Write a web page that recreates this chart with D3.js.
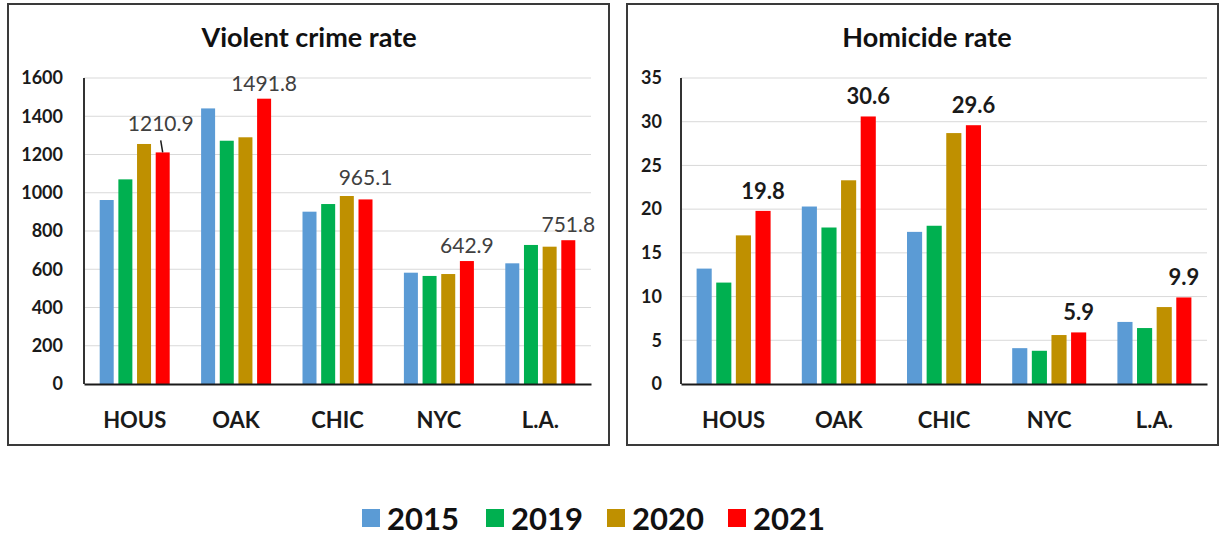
<!DOCTYPE html>
<html>
<head>
<meta charset="utf-8">
<script src="https://cdn.jsdelivr.net/npm/d3@7"></script>
<style>
  html, body { margin: 0; padding: 0; background: #ffffff; }
  svg { display: block; font-family: Lato, "Open Sans", sans-serif; }
</style>
</head>
<body>
<svg id="chart" width="1221" height="537"></svg>
<script>
// City groups and reporting years
const cities = ["HOUS", "OAK", "CHIC", "NYC", "L.A."];
const years = ["2015", "2019", "2020", "2021"];
const yearColors = ["#5B9BD5", "#00B050", "#BF9000", "#FF0000"];

// Violent crime rate per 100k
const violent2015 = [962, 1441, 901, 582, 631];
const violent2019 = [1070, 1272, 941, 565, 727];
const violent2020 = [1255, 1290, 983, 575, 718];
const violent2021 = [1210.9, 1491.8, 965.1, 642.9, 751.8];
const violentTicks = [0, 200, 400, 600, 800, 1000, 1200, 1400, 1600];

// Homicide rate per 100k
const homicide2015 = [13.2, 20.3, 17.4, 4.1, 7.1];
const homicide2019 = [11.6, 17.9, 18.1, 3.8, 6.4];
const homicide2020 = [17.0, 23.3, 28.7, 5.6, 8.8];
const homicide2021 = [19.8, 30.6, 29.6, 5.9, 9.9];
const homicideTicks = [0, 5, 10, 15, 20, 25, 30, 35];

const svg = d3.select("#chart");

function drawPanel(opts) {
  const g = svg.append("g");
  const series = opts.series;

  // panel frame
  g.append("rect")
    .attr("x", opts.box[0]).attr("y", opts.box[1])
    .attr("width", opts.box[2] - opts.box[0]).attr("height", opts.box[3] - opts.box[1])
    .attr("fill", "#fff").attr("stroke", "#3a3a3a").attr("stroke-width", 2);

  // title
  g.append("text")
    .attr("x", opts.titleX).attr("y", 47)
    .attr("text-anchor", "middle")
    .attr("font-size", 27).attr("font-weight", 700).attr("fill", "#111")
    .text(opts.title);

  const y = d3.scaleLinear().domain([0, opts.ticks[opts.ticks.length - 1]]).range([384, 78]);
  const x0 = d3.scaleBand().domain(cities).range([opts.left, opts.right]);
  const x1 = d3.scaleBand().domain(years).range([0, opts.groupW]).paddingInner(opts.barPad);

  // gridlines
  g.append("g").selectAll("line").data(opts.ticks.slice(1)).join("line")
    .attr("x1", opts.left).attr("x2", opts.right)
    .attr("y1", d => y(d)).attr("y2", d => y(d))
    .attr("stroke", "#d9d9d9").attr("stroke-width", 1);

  // y axis labels
  const yAxis = d3.axisLeft(y).tickValues(opts.ticks).tickFormat(d3.format("d"))
    .tickSize(0).tickPadding(0);
  const ya = g.append("g").attr("transform", `translate(${opts.labelRight},0)`).call(yAxis);
  ya.select(".domain").remove();
  ya.selectAll("text")
    .attr("font-family", "Lato, sans-serif")
    .attr("font-size", 18).attr("font-weight", 700).attr("fill", "#1a1a1a");

  // bars
  const groups = g.append("g").selectAll("g").data(cities).join("g")
    .attr("transform", d => `translate(${x0(d) + x0.bandwidth() / 2 - opts.groupW / 2},0)`);
  groups.selectAll("rect")
    .data((c, i) => years.map((yr, k) => ({ yr, k, v: series[k][i] })))
    .join("rect")
    .attr("x", d => x1(d.yr))
    .attr("width", x1.bandwidth())
    .attr("y", d => y(d.v))
    .attr("height", d => y(0) - y(d.v))
    .attr("fill", d => yearColors[d.k]);

  // axes lines
  g.append("line")
    .attr("x1", opts.left).attr("x2", opts.left)
    .attr("y1", y(opts.ticks[opts.ticks.length - 1])).attr("y2", y(0))
    .attr("stroke", "#333").attr("stroke-width", 2);
  const xAxis = d3.axisBottom(x0).tickSize(0).tickPadding(0);
  const xa = g.append("g").attr("transform", `translate(0,${y(0)})`).call(xAxis);
  xa.select(".domain").attr("stroke", "#1a1a1a").attr("stroke-width", 2);
  xa.selectAll("text")
    .attr("y", 44)
    .attr("dy", 0)
    .attr("font-family", "Lato, sans-serif")
    .attr("font-size", 22).attr("font-weight", 700).attr("fill", "#1a1a1a");

  // 2021 value labels
  const last = series[3];
  const lbl = g.append("g");
  cities.forEach((c, i) => {
    const cx = x0(c) + x0.bandwidth() / 2 - opts.groupW / 2 + x1("2021") + x1.bandwidth() / 2;
    const top = y(last[i]);
    const lift = opts.lift[i];
    lbl.append("text")
      .attr("x", cx + opts.labelShift[i]).attr("y", top - lift)
      .attr("text-anchor", "middle")
      .attr("font-size", opts.labelSize).attr("font-weight", opts.labelWeight)
      .attr("fill", opts.labelColor)
      .text(last[i]);
    if (lift > 18) {
      lbl.append("line")
        .attr("x1", cx + opts.labelShift[i]).attr("y1", top - lift + 9)
        .attr("x2", cx).attr("y2", top)
        .attr("stroke", "#1a1a1a").attr("stroke-width", 1.5);
    }
  });
}

drawPanel({
  title: "Violent crime rate", titleX: 309,
  box: [8, 4, 609, 445],
  left: 84, right: 591, labelRight: 63,
  groupW: 70, barPad: 0.25,
  ticks: violentTicks,
  series: [violent2015, violent2019, violent2020, violent2021],
  lift: [21, 8, 14, 8, 8], labelShift: [-2, 0, 0, 0, 0],
  labelSize: 21, labelWeight: 400, labelColor: "#404040"
});

drawPanel({
  title: "Homicide rate", titleX: 927,
  box: [627, 4, 1218, 445],
  left: 681, right: 1207, labelRight: 662,
  groupW: 74, barPad: 0.23,
  ticks: homicideTicks,
  series: [homicide2015, homicide2019, homicide2020, homicide2021],
  lift: [12, 12, 12, 12, 12], labelShift: [0, 0, 0, 0, 0],
  labelSize: 22, labelWeight: 700, labelColor: "#1a1a1a"
});

// legend
const legendX = [362, 486, 607, 728];
const legend = svg.append("g").selectAll("g").data(years).join("g")
  .attr("transform", (d, i) => `translate(${legendX[i]},0)`);
legend.append("rect")
  .attr("x", 0).attr("y", 509).attr("width", 18).attr("height", 18)
  .attr("fill", (d, i) => yearColors[i]);
legend.append("text")
  .attr("x", 25).attr("y", 530)
  .attr("font-size", 31).attr("font-weight", 700).attr("fill", "#111")
  .text(d => d);
</script>
</body>
</html>
